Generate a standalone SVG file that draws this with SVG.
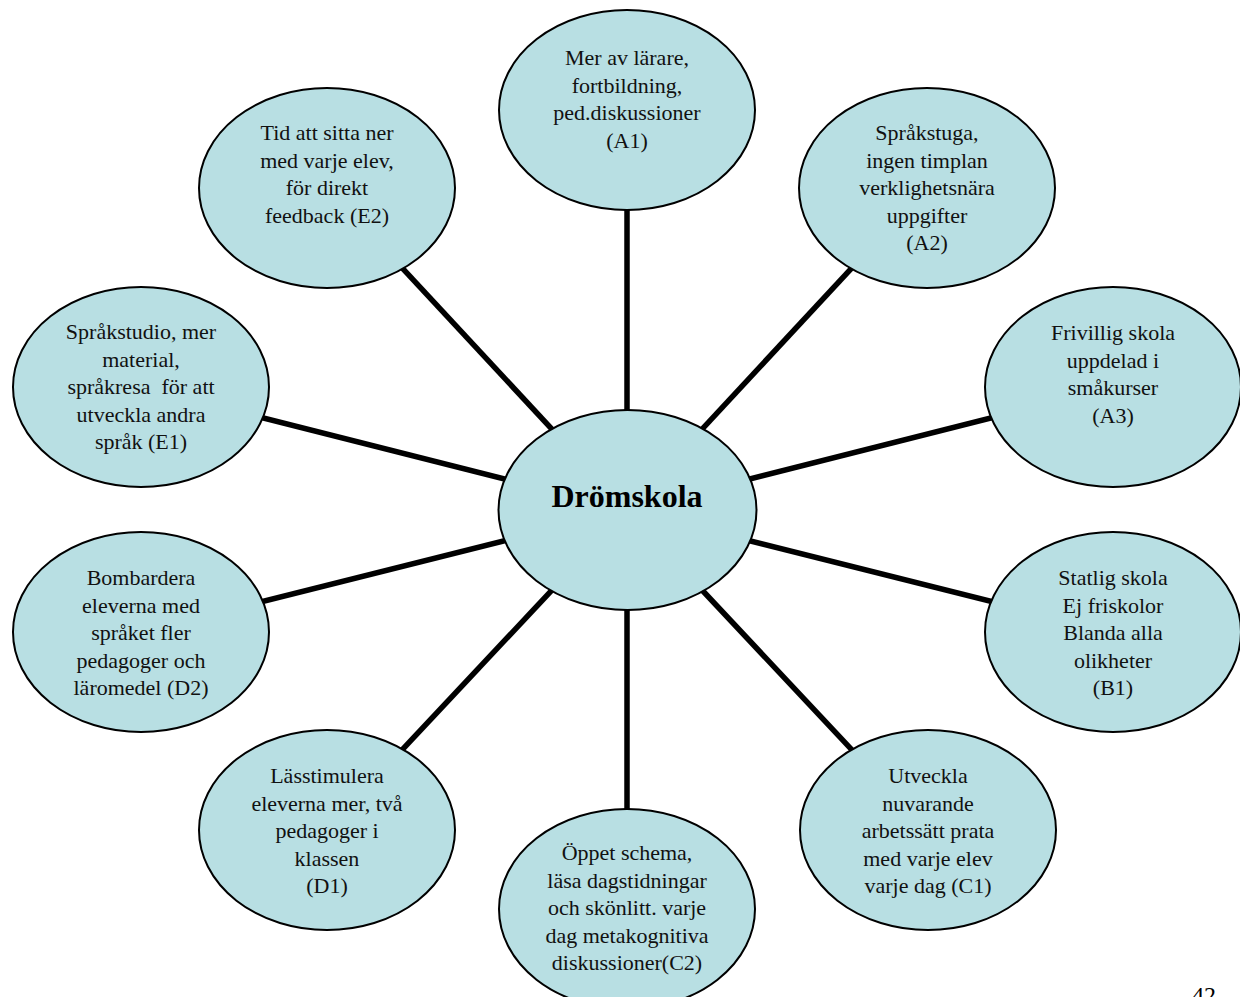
<svg xmlns="http://www.w3.org/2000/svg" width="1240" height="997" viewBox="0 0 1240 997">
<style>
.n{fill:#b8dfe3;stroke:#000;stroke-width:2}
.t{font-family:"Liberation Serif","Times New Roman",serif;font-size:22px;fill:#111;text-anchor:middle}
.c{stroke:#000;stroke-width:5.5;fill:none}
.h{font-family:"Liberation Serif","Times New Roman",serif;font-size:32px;font-weight:bold;fill:#000;text-anchor:middle}
</style>
<rect width="1240" height="997" fill="#fff"/>
<g id="connectors">
<line class="c" x1="627" y1="510" x2="627" y2="110"/>
<line class="c" x1="627" y1="510" x2="927" y2="187"/>
<line class="c" x1="627" y1="510" x2="1113" y2="387"/>
<line class="c" x1="627" y1="510" x2="1113" y2="632"/>
<line class="c" x1="627" y1="510" x2="927" y2="830"/>
<line class="c" x1="627" y1="510" x2="627" y2="908"/>
<line class="c" x1="627" y1="510" x2="327" y2="830"/>
<line class="c" x1="627" y1="510" x2="141" y2="632"/>
<line class="c" x1="627" y1="510" x2="141" y2="387"/>
<line class="c" x1="627" y1="510" x2="327" y2="187"/>
</g>
<g id="center">
<ellipse class="n" cx="627.5" cy="510" rx="129" ry="100"/>
<text class="h" x="627" y="507">Drömskola</text>
</g>
<g id="A1">
<ellipse class="n" cx="627" cy="110" rx="128" ry="100"/>
<text class="t" x="627" y="65">Mer av lärare,</text>
<text class="t" x="627" y="92.5">fortbildning,</text>
<text class="t" x="627" y="120">ped.diskussioner</text>
<text class="t" x="627" y="147.5">(A1)</text>
</g>
<g id="A2">
<ellipse class="n" cx="927" cy="188" rx="128" ry="100"/>
<text class="t" x="927" y="140">Språkstuga,</text>
<text class="t" x="927" y="167.5">ingen timplan</text>
<text class="t" x="927" y="195">verklighetsnära</text>
<text class="t" x="927" y="222.5">uppgifter</text>
<text class="t" x="927" y="250">(A2)</text>
</g>
<g id="A3">
<ellipse class="n" cx="1113" cy="387" rx="128" ry="100"/>
<text class="t" x="1113" y="340">Frivillig skola</text>
<text class="t" x="1113" y="367.5">uppdelad i</text>
<text class="t" x="1113" y="395">småkurser</text>
<text class="t" x="1113" y="422.5">(A3)</text>
</g>
<g id="B1">
<ellipse class="n" cx="1113" cy="632" rx="128" ry="100"/>
<text class="t" x="1113" y="585">Statlig skola</text>
<text class="t" x="1113" y="612.5">Ej friskolor</text>
<text class="t" x="1113" y="640">Blanda alla</text>
<text class="t" x="1113" y="667.5">olikheter</text>
<text class="t" x="1113" y="695">(B1)</text>
</g>
<g id="C1">
<ellipse class="n" cx="928" cy="830" rx="128" ry="100"/>
<text class="t" x="928" y="783">Utveckla</text>
<text class="t" x="928" y="810.5">nuvarande</text>
<text class="t" x="928" y="838">arbetssätt prata</text>
<text class="t" x="928" y="865.5">med varje elev</text>
<text class="t" x="928" y="893">varje dag (C1)</text>
</g>
<g id="C2">
<ellipse class="n" cx="627" cy="909" rx="128" ry="100"/>
<text class="t" x="627" y="860">Öppet schema,</text>
<text class="t" x="627" y="887.5">läsa dagstidningar</text>
<text class="t" x="627" y="915">och skönlitt. varje</text>
<text class="t" x="627" y="942.5">dag metakognitiva</text>
<text class="t" x="627" y="970">diskussioner(C2)</text>
</g>
<g id="D1">
<ellipse class="n" cx="327" cy="830" rx="128" ry="100"/>
<text class="t" x="327" y="783">Lässtimulera</text>
<text class="t" x="327" y="810.5">eleverna mer, två</text>
<text class="t" x="327" y="838">pedagoger i</text>
<text class="t" x="327" y="865.5">klassen</text>
<text class="t" x="327" y="893">(D1)</text>
</g>
<g id="D2">
<ellipse class="n" cx="141" cy="632" rx="128" ry="100"/>
<text class="t" x="141" y="585">Bombardera</text>
<text class="t" x="141" y="612.5">eleverna med</text>
<text class="t" x="141" y="640">språket fler</text>
<text class="t" x="141" y="667.5">pedagoger och</text>
<text class="t" x="141" y="695">läromedel (D2)</text>
</g>
<g id="E1">
<ellipse class="n" cx="141" cy="387" rx="128" ry="100"/>
<text class="t" x="141" y="339">Språkstudio, mer</text>
<text class="t" x="141" y="366.5">material,</text>
<text class="t" x="141" y="394" xml:space="preserve">språkresa  för att</text>
<text class="t" x="141" y="421.5">utveckla andra</text>
<text class="t" x="141" y="449">språk (E1)</text>
</g>
<g id="E2">
<ellipse class="n" cx="327" cy="188" rx="128" ry="100"/>
<text class="t" x="327" y="140">Tid att sitta ner</text>
<text class="t" x="327" y="167.5">med varje elev,</text>
<text class="t" x="327" y="195">för direkt</text>
<text class="t" x="327" y="222.5">feedback (E2)</text>
</g>
<text x="1192" y="1003" style="font-family:'Liberation Serif','Times New Roman',serif;font-size:24px;fill:#000">42</text>
</svg>
